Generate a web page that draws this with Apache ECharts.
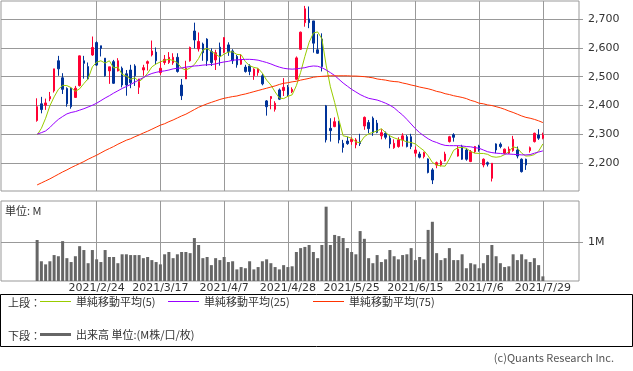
<!DOCTYPE html>
<html><head><meta charset="utf-8">
<script src="https://cdn.jsdelivr.net/npm/echarts@6/dist/echarts.min.js"></script>
<style>html,body{margin:0;padding:0;background:#fff}#c{width:633px;height:371px}</style>
</head><body><div id="c"></div>
<script>
const dates = [
'2021/2/2','2021/2/3','2021/2/4','2021/2/5','2021/2/8','2021/2/9','2021/2/10','2021/2/12','2021/2/15','2021/2/16','2021/2/17','2021/2/18','2021/2/19','2021/2/22','2021/2/24','2021/2/25','2021/2/26',
'2021/3/1','2021/3/2','2021/3/3','2021/3/4','2021/3/5','2021/3/8','2021/3/9','2021/3/10','2021/3/11','2021/3/12','2021/3/15','2021/3/16','2021/3/17','2021/3/18','2021/3/19','2021/3/22','2021/3/23','2021/3/24','2021/3/25','2021/3/26','2021/3/29','2021/3/30','2021/3/31',
'2021/4/1','2021/4/2','2021/4/5','2021/4/6','2021/4/7','2021/4/8','2021/4/9','2021/4/12','2021/4/13','2021/4/14','2021/4/15','2021/4/16','2021/4/19','2021/4/20','2021/4/21','2021/4/22','2021/4/23','2021/4/26','2021/4/27','2021/4/28','2021/4/30',
'2021/5/6','2021/5/7','2021/5/10','2021/5/11','2021/5/12','2021/5/13','2021/5/14','2021/5/17','2021/5/18','2021/5/19','2021/5/20','2021/5/21','2021/5/24','2021/5/25','2021/5/26','2021/5/27','2021/5/28','2021/5/31',
'2021/6/1','2021/6/2','2021/6/3','2021/6/4','2021/6/7','2021/6/8','2021/6/9','2021/6/10','2021/6/11','2021/6/14','2021/6/15','2021/6/16','2021/6/17','2021/6/18','2021/6/21','2021/6/22','2021/6/23','2021/6/24','2021/6/25','2021/6/28','2021/6/29','2021/6/30',
'2021/7/1','2021/7/2','2021/7/5','2021/7/6','2021/7/7','2021/7/8','2021/7/9','2021/7/12','2021/7/13','2021/7/14','2021/7/15','2021/7/16','2021/7/19','2021/7/20','2021/7/21','2021/7/26','2021/7/27','2021/7/28','2021/7/29'];

const opens = [2348,2406,2401,2423,2451,2555,2496,2459,2460,2428,2469,2555,2535,2575,2618,2607,2564,2520,2552,2520,
2529,2510,2523,2537,2463,2523,2546,2575,2585,2514, 2549,2549,2548,2567,2471,2492,2555,2658,2596,2613,
2630,2587,2558,2602,2585,2610,2589,2570,2543,2533, 2537,2503,2514,2503,2416,2424,2387,2454,2452,2463,
2448,2491,2595,2687,2700,2693,2593,2630,2399,2321, 2327,2343,2269,2277,2275,2264,2275,2329,2341,2356,
2339,2295,2304,2287,2254,2258,2281,2292,2292,2235, 2232,2223,2215,2177,2194,2194,2209,2275,2299,2225,
2258,2246,2206,2240,2260,2194,2202,2148,2267,2266, 2235,2235,2244,2246,2214,2214,2244,2275,2298,2287];
const closes = [2396,2386,2409,2431,2527,2527,2456,2406,2396,2460,2572,2546,2492,2601,2540,2598,2503,2534,2477,2555,
2471,2471,2479,2503,2492,2531,2552,2589,2555,2529, 2560,2567,2567,2518,2434,2529,2601,2627,2622,2583,
2555,2549,2583,2570,2635,2587,2555,2541,2560,2518, 2518,2526,2526,2475,2396,2431,2408,2422,2463,2438,
2456,2565,2654,2735,2687,2616,2581,2535,2281,2313, 2344,2281,2255,2268,2283,2281,2268,2359,2320,2306,
2307,2306,2290,2267,2269,2281,2295,2258,2258,2246, 2221,2237,2168,2142,2202,2206,2232,2292,2290,2249,
2214,2214,2240,2258,2246,2214,2197,2200,2246,2258, 2249,2249,2283,2225,2171,2194,2254,2304,2287,2298];
const lows = [2344,2373,2385,2415,2445,2503,2440,2396,2389,2428,2466,2493,2488,2572,2537,2570,2500,2475,2475,2518,
2463,2434,2460,2468,2440,2503,2521,2570,2542,2506, 2541,2544,2541,2514,2419,2492,2552,2598,2587,2555,
2537,2537,2523,2538,2581,2572,2544,2531,2541,2514, 2505,2489,2503,2470,2365,2387,2379,2419,2433,2431,
2443,2489,2593,2673,2668,2583,2579,2518,2272,2275, 2325,2269,2237,2264,2264,2252,2260,2316,2304,2295,
2304,2283,2283,2252,2250,2254,2258,2255,2249,2223, 2217,2217,2165,2128,2183,2189,2206,2272,2275,2223,
2212,2209,2204,2235,2240,2186,2189,2137,2235,2252, 2232,2232,2240,2217,2168,2177,2237,2272,2281,2283];
const highs = [2425,2430,2424,2447,2527,2572,2512,2463,2463,2468,2573,2572,2549,2639,2622,2607,2564,2534,2558,2564,
2535,2523,2541,2543,2492,2541,2556,2625,2601,2555, 2575,2585,2581,2581,2492,2555,2604,2687,2653,2618,
2633,2598,2593,2618,2637,2619,2595,2575,2578,2541, 2543,2529,2529,2510,2419,2433,2415,2459,2495,2471,
2463,2570,2656,2745,2743,2693,2647,2650,2402,2356, 2359,2347,2281,2292,2290,2287,2302,2362,2350,2362,
2350,2318,2310,2298,2283,2290,2304,2298,2302,2258, 2240,2240,2217,2183,2206,2212,2240,2295,2304,2260,
2264,2252,2246,2260,2264,2217,2206,2200,2269,2272, 2251,2258,2295,2258,2217,2216,2258,2306,2318,2306];

const ma5 = [2298,2321,2356,2399,2430,2456,2470,2469,2462,2449,2458,2476,2493,2534,2550,2555,2547,2555,2530,2533,
2508,2502,2491,2496,2483,2495,2512,2534,2544,2551, 2557,2560,2556,2548,2529,2523,2530,2542,2563,2592,
2598,2587,2578,2568,2578,2585,2586,2577,2576,2552, 2538,2532,2529,2512,2488,2471,2447,2426,2424,2432,
2437,2469,2515,2570,2619,2651,2655,2631,2540,2465, 2411,2351,2295,2292,2286,2274,2271,2292,2302,2307,
2312,2320,2306,2295,2288,2283,2280,2274,2272,2267, 2255,2244,2226,2203,2194,2191,2190,2215,2245,2254,
2255,2252,2241,2235,2234,2234,2231,2223,2221,2223, 2230,2240,2257,2253,2235,2225,2226,2230,2242,2267];
const ma25 = [2301,2306,2312,2324,2339,2352,2362,2371,2376,2379,2384,2389,2395,2401,2408,2417,2426,2434,2443,2451,
2459,2466,2473,2481,2489,2497,2505,2511,2515,2518, 2520,2523,2527,2529,2530,2533,2535,2537,2538,2540,
2541,2542,2544,2548,2551,2553,2557,2558,2559,2560, 2560,2559,2557,2553,2549,2544,2538,2533,2529,2527,
2526,2527,2529,2531,2535,2537,2536,2531,2523,2514, 2504,2491,2478,2467,2456,2447,2438,2431,2425,2422,
2419,2414,2408,2401,2392,2379,2367,2352,2336,2320, 2306,2295,2285,2277,2272,2266,2262,2261,2261,2261,
2260,2258,2257,2254,2252,2246,2240,2237,2235,2234, 2232,2232,2231,2230,2229,2229,2230,2235,2239,2243];
const ma75 = [2125,2132,2139,2146,2154,2162,2170,2177,2185,2192,2199,2206,2214,2221,2228,2236,2244,2251,2258,2266,
2273,2280,2285,2292,2298,2305,2311,2318,2325,2332, 2337,2344,2350,2357,2364,2370,2378,2386,2394,2400,
2406,2411,2416,2421,2425,2428,2431,2433,2437,2440, 2444,2448,2452,2456,2460,2464,2468,2473,2477,2479,
2482,2484,2488,2491,2494,2498,2500,2501,2502,2503, 2503,2503,2503,2503,2502,2502,2501,2500,2498,2496,
2492,2490,2488,2485,2483,2482,2478,2475,2471,2468, 2464,2461,2458,2454,2449,2446,2441,2438,2434,2431,
2428,2424,2418,2414,2408,2406,2402,2400,2396,2392, 2387,2381,2376,2370,2364,2359,2356,2352,2347,2341];
const volumes = [1.06,0.51,0.43,0.51,0.67,0.64,1.03,0.59,0.49,0.64,0.90,0.80,0.46,0.80,0.56,0.49,0.80,0.62,0.62,0.46,
0.69,0.69,0.67,0.67,0.67,0.59,0.62,0.54,0.49,0.43, 0.69,0.75,0.59,0.69,0.75,0.75,0.72,1.11,0.93,0.59,
0.62,0.41,0.59,0.54,0.62,0.49,0.51,0.30,0.36,0.33, 0.51,0.30,0.36,0.51,0.56,0.46,0.36,0.30,0.41,0.36,
0.38,0.75,0.85,0.88,0.93,0.75,0.59,0.93,1.92,0.93, 1.19,1.16,1.11,0.85,0.75,0.69,1.29,1.09,0.59,0.46,
0.67,0.49,0.56,0.80,0.64,0.56,0.67,0.69,0.85,0.54, 0.62,0.56,1.32,1.53,0.72,0.54,0.59,0.85,0.54,0.54,
0.69,0.33,0.46,0.43,0.33,0.46,0.67,0.93,0.64,0.46, 0.36,0.38,0.69,0.54,0.69,0.56,0.49,0.59,0.41,0.12];

const tickLabels = ['2021/2/24','2021/3/17','2021/4/7','2021/4/28','2021/5/25','2021/6/15','2021/7/6','2021/7/29'];
const priceTicks = [2200,2300,2400,2500,2600,2700];
const volumeTicks = [1];
const legendNames = ['単純移動平均(5)','単純移動平均(25)','単純移動平均(75)','出来高 単位:(M株/口/枚)'];

const PAD = 8;
const cats = [];
for (let i = 0; i < PAD; i++) cats.push('s' + i);
dates.forEach(d => cats.push(d));
for (let i = 0; i < PAD; i++) cats.push('e' + i);
const padLeft = arr => Array(PAD).fill('-').concat(arr);
const candleData = Array(PAD).fill(['-','-','-','-']).concat(dates.map((d, i) => [opens[i], closes[i], lows[i], highs[i]]));
const isTick = (idx, val) => tickLabels.indexOf(cats[idx]) >= 0;

const FONT = 'DejaVu Sans';
const JFONT = '"Noto Sans CJK JP", sans-serif';
const gridColor = '#999';

const chart = echarts.init(document.getElementById('c'), null, {renderer: 'canvas'});
const xBase = gi => ({
  type: 'category', gridIndex: gi, data: cats, boundaryGap: true,
  axisLine: {show: false}, axisTick: {show: false},
  splitLine: {show: true, alignWithLabel: true, interval: isTick, lineStyle: {color: gridColor, width: 1}}
});
const legendBase = (name, left, top, color, h) => ({
  data: [name], left: left, top: top, padding: 0, icon: 'rect', itemWidth: 31, itemHeight: h,
  itemGap: 0, selectedMode: false,
  textStyle: {fontSize: 11, fontFamily: JFONT, color: '#333', padding: [0, 0, 0, 0]}
});

chart.setOption({
  animation: false,
  backgroundColor: '#fff',
  grid: [
    {left: 1, top: 1, width: 578, height: 190, show: true, borderColor: gridColor, borderWidth: 1},
    {left: 1, top: 201, width: 578, height: 80, show: true, borderColor: gridColor, borderWidth: 1}
  ],
  xAxis: [
    Object.assign(xBase(0), {axisLabel: {show: false}}),
    Object.assign(xBase(1), {axisLabel: {show: true, interval: isTick, margin: 2, fontSize: 11, fontFamily: FONT, color: '#333'}})
  ],
  yAxis: [
    {type: 'value', gridIndex: 0, position: 'right', min: 2104, max: 2762, minInterval: 100, maxInterval: 100,
     axisLine: {show: false},
     axisTick: {show: true, length: 4, customValues: priceTicks, lineStyle: {color: gridColor}},
     axisLabel: {customValues: priceTicks, margin: 9, fontSize: 11, fontFamily: FONT, color: '#333',
       formatter: v => (v % 100 === 0 ? v.toLocaleString('en-US') : '')},
     splitLine: {lineStyle: {color: gridColor, width: 1}}},
    {type: 'value', gridIndex: 1, position: 'right', min: 0, max: 2.067, minInterval: 1, maxInterval: 1,
     axisLine: {show: false},
     axisTick: {show: true, length: 4, customValues: volumeTicks, lineStyle: {color: gridColor}},
     axisLabel: {customValues: volumeTicks, margin: 9, fontSize: 11, fontFamily: FONT, color: '#333',
       formatter: v => (v === 1 ? '1M' : '')},
     splitLine: {lineStyle: {color: gridColor, width: 1}}}
  ],
  legend: [
    legendBase(legendNames[0], 40, 296, '#99cc00', 1),
    legendBase(legendNames[1], 168, 296, '#9900ff', 1),
    legendBase(legendNames[2], 313, 296, '#ff3300', 1),
    legendBase(legendNames[3], 40, 329, '#666', 3)
  ],
  graphic: [
    {type: 'rect', silent: true, shape: {x: 0.5, y: 294.5, width: 632, height: 52}, style: {fill: 'none', stroke: '#000', lineWidth: 1}},
    {type: 'text', silent: true, style: {text: '上段：', x: 8, y: 303, fill: '#333', font: '11px ' + JFONT, verticalAlign: 'middle'}},
    {type: 'text', silent: true, style: {text: '下段：', x: 8, y: 336, fill: '#333', font: '11px ' + JFONT, verticalAlign: 'middle'}},
    {type: 'text', silent: true, style: {text: '単位: M', x: 5, y: 211, fill: '#333', font: '11px ' + JFONT, verticalAlign: 'middle'}},
    {type: 'text', silent: true, style: {text: '(c)Quants Research Inc.', x: 614, y: 358, fill: '#555', font: '11px ' + JFONT, align: 'right', verticalAlign: 'middle'}}
  ],
  series: [
    {type: 'candlestick', xAxisIndex: 0, yAxisIndex: 0, data: candleData, barWidth: 2,
     itemStyle: {color: '#ff0033', color0: '#003399', borderColor: '#ff0033', borderColor0: '#003399', borderWidth: 1}},
    {type: 'line', name: legendNames[0], xAxisIndex: 0, yAxisIndex: 0, data: padLeft(ma5), symbol: 'none',
     lineStyle: {color: '#99cc00', width: 1}, itemStyle: {color: '#99cc00'}},
    {type: 'line', name: legendNames[1], xAxisIndex: 0, yAxisIndex: 0, data: padLeft(ma25), symbol: 'none',
     lineStyle: {color: '#9900ff', width: 1}, itemStyle: {color: '#9900ff'}},
    {type: 'line', name: legendNames[2], xAxisIndex: 0, yAxisIndex: 0, data: padLeft(ma75), symbol: 'none',
     lineStyle: {color: '#ff3300', width: 1}, itemStyle: {color: '#ff3300'}},
    {type: 'bar', name: legendNames[3], xAxisIndex: 1, yAxisIndex: 1, data: padLeft(volumes), barWidth: 3,
     itemStyle: {color: '#666'}}
  ]
});
</script></body></html>
